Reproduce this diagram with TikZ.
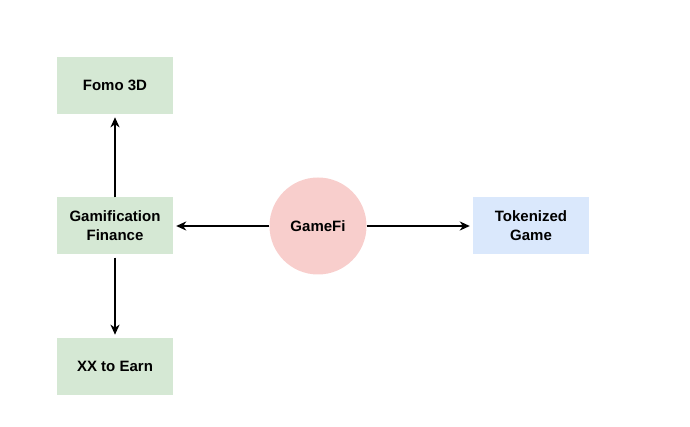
\documentclass[tikz,border=0pt]{standalone}
\usepackage{fontspec}
\setmainfont{Liberation Sans}
\usepackage{tikz}
\usetikzlibrary{arrows.meta,positioning}
\definecolor{greenbg}{HTML}{D5E8D4}
\definecolor{redbg}{HTML}{F8CECC}
\definecolor{bluebg}{HTML}{DAE8FC}

\begin{document}
\begin{tikzpicture}[x=1pt,y=-1pt,font=\fontsize{15}{19}\selectfont\bfseries,
    box/.style={minimum width=116pt,minimum height=57pt,align=center,inner sep=0pt},
    link/.style={-{Stealth[length=10pt,width=9pt,inset=3pt]},line width=1.6pt,shorten >=3pt}]
  \useasboundingbox (0,0) rectangle (690,427);
  \node[box,fill=greenbg] (gf) at (115,226) {Gamification\\Finance};
  \node[box,fill=greenbg,above=83pt of gf] (fomo) {Fomo 3D};
  \node[box,fill=greenbg,below=83pt of gf] (earn) {XX to Earn};
  \node[circle,fill=redbg,minimum size=97pt,inner sep=0pt] (gamefi) at (318,226) {GameFi};
  \node[box,fill=bluebg] (token) at (531,226) {Tokenized\\Game};
  \draw[link] (gamefi) -- (gf);
  \draw[link] (gamefi) -- (token);
  \draw[link] (gf) -- (fomo);
  \draw[link,shorten <=3pt] (gf) -- (earn);
\end{tikzpicture}
\end{document}
